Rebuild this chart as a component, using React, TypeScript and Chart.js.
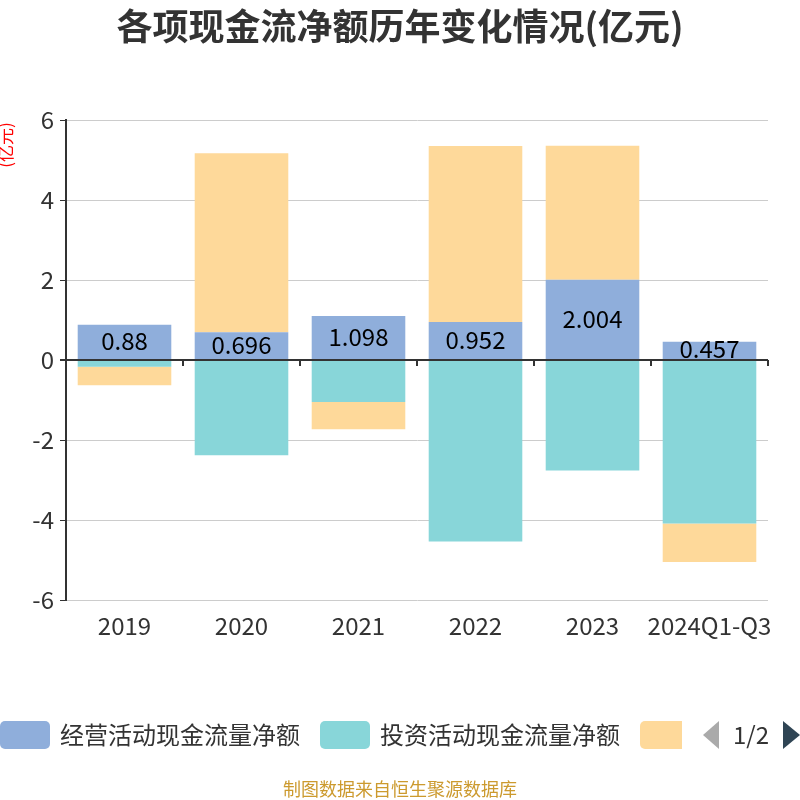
import React, { useEffect, useRef } from "react";
import { Chart, registerables } from "chart.js";

Chart.register(...registerables);

const categories = ["2019", "2020", "2021", "2022", "2023", "2024Q1-Q3"];
const operating = [0.88, 0.696, 1.098, 0.952, 2.004, 0.457];
const investing = [-0.17, -2.38, -1.05, -4.54, -2.76, -4.09];
const financing = [-0.46, 4.47, -0.68, 4.4, 3.35, -0.96];
const seriesNames = ["经营活动现金流量净额", "投资活动现金流量净额", "筹资活动现金流量净额"];
const seriesColors = ["#8FAEDB", "#88D6D9", "#FED99A"];
const titleText = "各项现金流净额历年变化情况(亿元)";
const yAxisTitle = "(亿元)";
const footerText = "制图数据来自恒生聚源数据库";
const pageText = "1/2";

const FONT = '"Noto Sans CJK SC", "Noto Sans", sans-serif';

const decorPlugin = {
  id: "decor",
  beforeDatasetsDraw(chart: any) {
    const { ctx, chartArea, scales } = chart;
    const y0 = scales.y.getPixelForValue(0);
    ctx.save();
    ctx.strokeStyle = "#333";
    ctx.lineWidth = 2;
    const n = categories.length;
    const w = (chartArea.right - chartArea.left) / n;
    for (let i = 1; i <= n; i++) {
      const x = Math.round(chartArea.left + i * w);
      ctx.beginPath();
      ctx.moveTo(x, y0);
      ctx.lineTo(x, y0 + 6);
      ctx.stroke();
    }
    ctx.restore();
  },
  afterDatasetsDraw(chart: any) {
    const { ctx } = chart;
    const meta = chart.getDatasetMeta(0);
    ctx.save();
    ctx.font = `24px ${FONT}`;
    ctx.fillStyle = "#000";
    ctx.textAlign = "center";
    ctx.textBaseline = "middle";
    meta.data.forEach((bar: any, i: number) => {
      ctx.fillText(String(operating[i]), bar.x, (bar.y + bar.base) / 2 - 1);
    });
    ctx.restore();
  },
  afterDraw(chart: any) {
    const { ctx } = chart;
    ctx.save();
    // title
    ctx.font = `bold 36px ${FONT}`;
    ctx.fillStyle = "#333";
    ctx.textAlign = "center";
    ctx.textBaseline = "middle";
    ctx.fillText(titleText, 400, 26);
    // y axis title
    ctx.save();
    ctx.translate(6, 145);
    ctx.rotate(-Math.PI / 2);
    ctx.font = `17px ${FONT}`;
    ctx.fillStyle = "#ff0000";
    ctx.textAlign = "center";
    ctx.textBaseline = "middle";
    ctx.fillText(yAxisTitle, 0, 0);
    ctx.restore();
    // legend
    const ly = 735;
    const drawRect = (x: number, w: number, color: string) => {
      ctx.fillStyle = color;
      ctx.beginPath();
      (ctx as any).roundRect(x, ly - 14, w, 28, 5);
      ctx.fill();
    };
    ctx.font = `24px ${FONT}`;
    ctx.textAlign = "left";
    ctx.textBaseline = "middle";
    drawRect(0, 50, seriesColors[0]);
    ctx.fillStyle = "#333";
    ctx.fillText(seriesNames[0], 60, ly);
    drawRect(320, 50, seriesColors[1]);
    ctx.fillStyle = "#333";
    ctx.fillText(seriesNames[1], 380, ly);
    // third (clipped)
    ctx.save();
    ctx.beginPath();
    ctx.rect(630, ly - 20, 52, 40);
    ctx.clip();
    drawRect(640, 50, seriesColors[2]);
    ctx.restore();
    // arrows
    ctx.fillStyle = "#aaa";
    ctx.beginPath();
    ctx.moveTo(703, ly);
    ctx.lineTo(719, ly - 14);
    ctx.lineTo(719, ly + 14);
    ctx.closePath();
    ctx.fill();
    ctx.fillStyle = "#333";
    ctx.textAlign = "center";
    ctx.fillText(pageText, 751, ly);
    ctx.fillStyle = "#2f4554";
    ctx.beginPath();
    ctx.moveTo(800, ly);
    ctx.lineTo(783, ly - 14);
    ctx.lineTo(783, ly + 14);
    ctx.closePath();
    ctx.fill();
    // footer
    ctx.font = `18px ${FONT}`;
    ctx.fillStyle = "#CC9A2E";
    ctx.textAlign = "center";
    ctx.fillText(footerText, 400, 789);
    ctx.restore();
  },
};

export default function App() {
  const ref = useRef<HTMLCanvasElement | null>(null);
  useEffect(() => {
    document.body.style.margin = "0";
    const canvas = ref.current;
    if (!canvas) return;
    const chart = new Chart(canvas, {
      type: "bar",
      data: {
        labels: categories,
        datasets: [
          { label: seriesNames[0], data: operating, backgroundColor: seriesColors[0] },
          { label: seriesNames[1], data: investing, backgroundColor: seriesColors[1] },
          { label: seriesNames[2], data: financing, backgroundColor: seriesColors[2] },
        ],
      },
      options: {
        animation: false,
        responsive: false,
        maintainAspectRatio: false,
        layout: { padding: { left: 0, right: 32, top: 120, bottom: 160 } },
        datasets: { bar: { categoryPercentage: 1, barPercentage: 0.8 } },
        plugins: {
          legend: { display: false },
          title: { display: false },
          tooltip: { enabled: false },
        },
        scales: {
          x: {
            stacked: true,
            grid: { display: false },
            border: { display: false },
            ticks: {
              color: "#333",
              font: { family: FONT, size: 24 },
              padding: 3,
              maxRotation: 0,
              autoSkip: false,
            },
            afterFit(scale: any) {
              scale.height = 40;
            },
          },
          y: {
            stacked: true,
            min: -6,
            max: 6,
            ticks: {
              stepSize: 2,
              color: "#333",
              font: { family: FONT, size: 24 },
              padding: 6,
            },
            grid: {
              color: (c: any) => (c.tick && c.tick.value === 0 ? "#333" : "#ccc"),
              lineWidth: (c: any) => (c.tick && c.tick.value === 0 ? 2 : 1),
              tickColor: "#333",
              tickLength: 6,
            },
            border: { color: "#333", width: 2 },
            afterFit(scale: any) {
              scale.width = 66;
            },
          },
        },
      },
      plugins: [decorPlugin],
    });
    return () => chart.destroy();
  }, []);
  return <canvas ref={ref} width={800} height={800} style={{ display: "block" }} />;
}
